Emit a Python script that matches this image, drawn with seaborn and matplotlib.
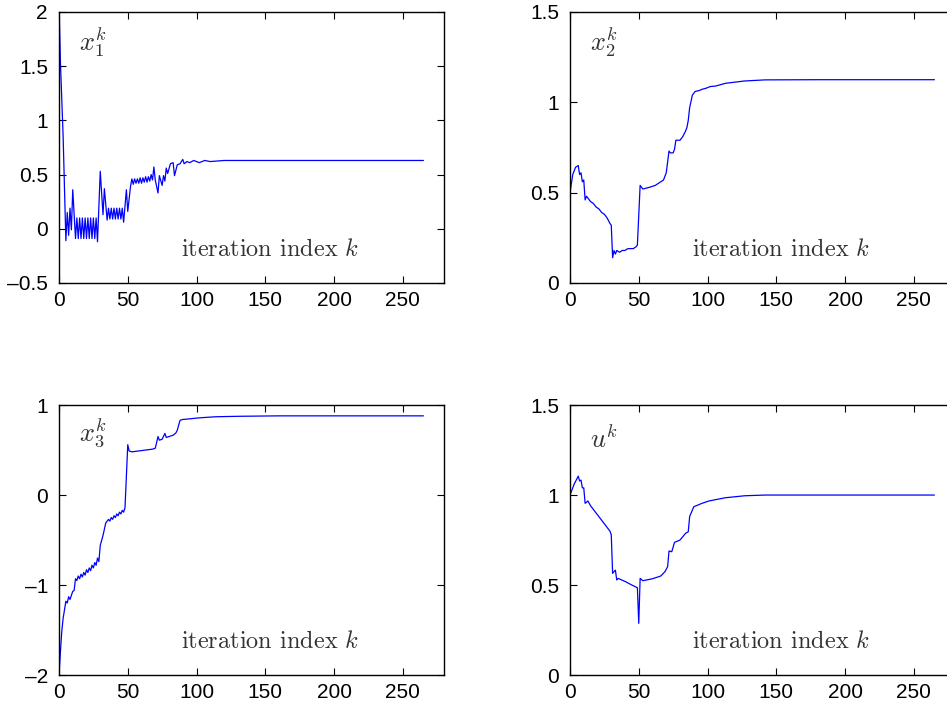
import matplotlib
matplotlib.use("Agg")
import matplotlib.pyplot as plt
import seaborn as sns

# iteration indices and values
x1_k = [0, 1, 3, 5, 6, 7, 8, 9, 10, 12,
        13, 14, 15, 16, 17, 18, 19, 20, 21, 22, 23, 24, 25, 26, 27, 28,
        30, 32, 33, 35,
        36, 37, 38, 39, 40, 41, 42, 43, 44, 45, 46,
        47, 49, 50, 52,
        53, 54, 55, 56, 57, 58, 59, 60, 61, 62, 63, 64, 65, 66, 67, 68,
        69, 70, 72, 73, 75, 76, 77, 78, 79, 81,
        83, 84, 86, 88, 90, 91, 93, 95, 98, 102,
        106, 110, 120, 140, 180, 265]
x1_v = [2.1, 1.55, 0.85, -0.11, 0.15, -0.06, 0.19, -0.01, 0.36, -0.09,
        0.10, -0.09, 0.10, -0.09, 0.10, -0.09, 0.10, -0.09, 0.10, -0.09, 0.10, -0.09, 0.10, -0.09, 0.10, -0.12,
        0.53, 0.13, 0.37, 0.08,
        0.19, 0.09, 0.19, 0.09, 0.19, 0.09, 0.19, 0.09, 0.19, 0.09, 0.19,
        0.06, 0.36, 0.16, 0.39,
        0.46, 0.41, 0.46, 0.42, 0.46, 0.42, 0.47, 0.42, 0.47, 0.43, 0.48, 0.43, 0.48, 0.44, 0.50, 0.45,
        0.57, 0.45, 0.33, 0.49, 0.40, 0.49, 0.44, 0.56, 0.51, 0.60,
        0.61, 0.49, 0.59, 0.60, 0.64, 0.60, 0.62, 0.61, 0.63, 0.61,
        0.63, 0.62, 0.63, 0.63, 0.63, 0.63]

x2_k = [0, 2, 4, 6, 7, 8, 9, 10, 11, 12,
        13, 15, 17, 19, 21, 23, 25, 27, 29, 30,
        31, 32, 33, 34, 36, 38, 40, 42, 44, 46,
        48, 49, 51, 53, 58, 62, 66, 68, 70, 72,
        73, 75, 76, 77, 80, 82, 84, 85, 86, 87,
        89, 91, 94, 96, 99, 102, 106, 113, 127, 142,
        180, 265]
x2_v = [0.50, 0.60, 0.64, 0.65, 0.60, 0.61, 0.56, 0.57, 0.46, 0.48,
        0.47, 0.45, 0.44, 0.42, 0.41, 0.39, 0.38, 0.36, 0.33, 0.32,
        0.14, 0.18, 0.16, 0.18, 0.17, 0.18, 0.18, 0.19, 0.19, 0.19,
        0.20, 0.21, 0.54, 0.52, 0.53, 0.54, 0.56, 0.57, 0.61, 0.73,
        0.72, 0.72, 0.74, 0.79, 0.79, 0.81, 0.84, 0.86, 0.90, 0.97,
        1.04, 1.06, 1.065, 1.072, 1.078, 1.087, 1.09, 1.105, 1.118, 1.124,
        1.125, 1.125]

x3_k = [0, 1, 2, 3, 5, 6, 7, 8, 10, 11,
        12, 13, 14, 15, 16, 17, 18, 19, 20, 21, 22, 23, 24, 25, 26, 27, 28, 29,
        30, 32, 34, 35,
        36, 37, 38, 39, 40, 41, 42, 43, 44, 45, 46, 47, 48,
        50, 51, 53, 58, 63, 68, 70, 72, 73, 75,
        77, 78, 80, 83, 85, 86, 88, 90, 94, 100,
        104, 114, 130, 160, 265]
x3_v = [-2.0, -1.75, -1.52, -1.37, -1.18, -1.20, -1.13, -1.16, -1.07, -1.06,
        -0.93, -0.95, -0.90, -0.93, -0.88, -0.91, -0.86, -0.89, -0.83, -0.86, -0.81, -0.84, -0.78, -0.81, -0.75, -0.78, -0.70, -0.74,
        -0.56, -0.45, -0.31, -0.29,
        -0.27, -0.29, -0.25, -0.27, -0.23, -0.25, -0.21, -0.23, -0.19, -0.21, -0.17, -0.19, -0.14,
        0.56, 0.49, 0.48, 0.49, 0.50, 0.51, 0.52, 0.65, 0.61, 0.62,
        0.685, 0.64, 0.65, 0.665, 0.69, 0.72, 0.83, 0.84, 0.845, 0.855,
        0.86, 0.87, 0.875, 0.88, 0.88]

u_k = [0, 3, 6, 7, 8, 9, 10, 11, 13, 15,
       17, 19, 21, 23, 25, 27, 29, 30, 31, 33,
       34, 35, 40, 45, 49, 50, 51, 53, 60, 66,
       69, 71, 72, 74, 76, 80, 84, 86, 87, 90,
       96, 101, 113, 127, 142, 180, 265]
u_v = [1.0, 1.06, 1.105, 1.078, 1.083, 1.04, 1.04, 0.954, 0.967, 0.94,
       0.92, 0.90, 0.88, 0.86, 0.84, 0.82, 0.80, 0.78, 0.565, 0.583,
       0.528, 0.537, 0.52, 0.50, 0.485, 0.287, 0.537, 0.524, 0.535, 0.55,
       0.574, 0.602, 0.689, 0.685, 0.737, 0.75, 0.787, 0.796, 0.88, 0.935,
       0.954, 0.967, 0.985, 0.996, 1.0, 1.0, 1.0]

x_ticks = [0, 50, 100, 150, 200, 250]
x_tick_labels = ['0', '50', '100', '150', '200', '250']
y_ticks_x1 = [-0.5, 0, 0.5, 1, 1.5, 2]
y_labels_x1 = ['\u20130.5', '0', '0.5', '1', '1.5', '2']
y_ticks_x3 = [-2, -1, 0, 1]
y_labels_x3 = ['\u20132', '\u20131', '0', '1']
y_ticks_pos = [0, 0.5, 1, 1.5]
y_labels_pos = ['0', '0.5', '1', '1.5']

sns.set_style('ticks', {'xtick.direction': 'in', 'ytick.direction': 'in'})
plt.rcParams['font.family'] = ['Liberation Sans', 'DejaVu Sans']
plt.rcParams['mathtext.fontset'] = 'cm'

fig = plt.figure(figsize=(9.47, 7.11), dpi=100)

# [left, bottom, width, height] in figure fraction, right column runs past the edge
panels = [
    ([0.0623, 0.602, 0.4066, 0.3812], x1_k, x1_v, (-0.5, 2), y_ticks_x1, y_labels_x1, r'$x_1^k$', 0.89),
    ([0.6019, 0.602, 0.4066, 0.3812], x2_k, x2_v, (0, 1.5), y_ticks_pos, y_labels_pos, r'$x_2^k$', 0.89),
    ([0.0623, 0.0506, 0.4066, 0.3797], x3_k, x3_v, (-2, 1), y_ticks_x3, y_labels_x3, r'$x_3^k$', 0.895),
    ([0.6019, 0.0506, 0.4066, 0.3797], u_k, u_v, (0, 1.5), y_ticks_pos, y_labels_pos, r'$u^k$', 0.875),
]

for rect, k, v, ylim, yt, ytl, name, ny in panels:
    ax = fig.add_axes(rect)
    sns.lineplot(x=k, y=v, ax=ax, color='#0000ff', linewidth=0.9)
    ax.set_xlim(0, 280)
    ax.set_ylim(*ylim)
    ax.set_xticks(x_ticks)
    ax.set_xticklabels(x_tick_labels)
    ax.set_yticks(yt)
    ax.set_yticklabels(ytl)
    ax.tick_params(axis='both', which='both', direction='in', top=True, right=True,
                   length=5, width=0.8, labelsize=15, colors='black')
    ax.tick_params(axis='x', pad=6)
    ax.tick_params(axis='y', pad=8)
    for s in ax.spines.values():
        s.set_visible(True)
        s.set_linewidth(1.0)
        s.set_color('black')
    ax.set_xlabel('')
    ax.set_ylabel('')
    ax.text(0.088, ny, name, transform=ax.transAxes, fontsize=19, color='#333333',
            ha='center', va='center')
    ax.text(0.548, 0.122, r'iteration index $k$', transform=ax.transAxes, fontsize=17.5,
            family='cmr10', color='#333333', ha='center', va='center')

fig.savefig('out.png', dpi=100)
